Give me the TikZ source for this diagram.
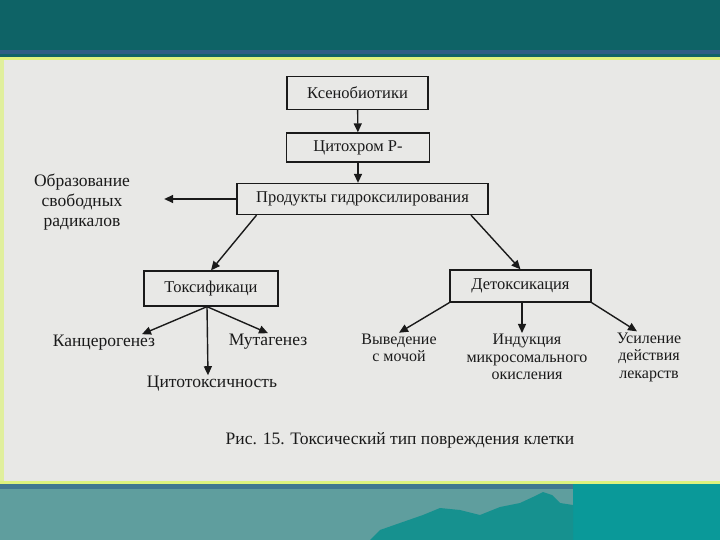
\documentclass[tikz,border=0pt]{standalone}
\usepackage{fontspec}
\setmainfont{Liberation Serif}
\usepackage{xcolor}
\usepackage{tikz}
\usetikzlibrary{calc,positioning,arrows.meta}

\definecolor{headteal}{HTML}{0E6366}
\definecolor{stripeblue}{HTML}{2C5E86}
\definecolor{stripeyellow}{HTML}{DDF27E}
\definecolor{pagegrey}{HTML}{E8E8E6}
\definecolor{footgrey}{HTML}{5F9E9E}
\definecolor{footteal}{HTML}{0A9999}
\definecolor{hillteal}{HTML}{16918F}
\definecolor{inkgrey}{HTML}{1A1A1A}

\tikzset{
  stage/.style={draw=inkgrey, line width=1.3pt, inner sep=0pt,
    font=\fontsize{16.5}{19}\selectfont, text=inkgrey},
  outcome/.style={align=center, inner sep=1pt,
    font=\fontsize{16}{17.5}\selectfont, text=inkgrey},
  bigout/.style={outcome, font=\fontsize{17.5}{20}\selectfont},
  flow/.style={draw=inkgrey, line width=1.4pt,
    -{Triangle[length=9pt,width=8pt]}}
}

\begin{document}
\begin{tikzpicture}[x=1pt,y=-1pt]
		% slide background
		\useasboundingbox (0,0) rectangle (720,540);
		\fill[pagegrey] (0,0) rectangle (720,540);
		\fill[headteal] (0,0) rectangle (720,58);
		\fill[stripeblue] (0,50) rectangle (720,54);
		\fill[stripeyellow] (0,57) rectangle (720,60);
		\fill[stripeyellow!70!pagegrey] (0,60) rectangle (4,482);
		\fill[stripeyellow] (0,481) rectangle (720,484);
		\fill[footgrey] (0,484) rectangle (720,540);
		\fill[stripeblue!60!footgrey] (0,484) rectangle (720,489);
		\fill[footteal] (573,484) rectangle (720,540);
		\fill[hillteal] (370,540) -- (380,530) -- (400,523) -- (423,515)
		  -- (440,508) -- (460,510) -- (480,515) -- (500,507) -- (520,503)
		  -- (533,497) -- (543,492) -- (552,495) -- (560,503) -- (573,505)
		  -- (573,540) -- cycle;

		% boxes
		\node[stage, minimum width=141pt, minimum height=33pt] (ksen) at (357.5,93) {Ксенобиотики};
		\node[stage, minimum width=143pt, minimum height=29pt] (cyto) at (358,147.5) {Цитохром Р-};
		\node[stage, minimum width=251pt, minimum height=31pt] (prod) at (362.5,199) {Продукты гидроксилирования};
		\node[stage, minimum width=134pt, minimum height=35pt] (toks) at (211,288.5) {Токсификаци};
		\node[stage, minimum width=141pt, minimum height=32pt] (detox) at (520.5,286) {Детоксикация};

		% outcomes
		\node[bigout] (rad) at (82,202) {Образование\\свободных\\радикалов};
		\node[bigout] (kanc) at (104,343) {Канцерогенез};
		\node[bigout] (mut) at (268,342) {Мутагенез};
		\node[bigout] (cito) at (212,384) {Цитотоксичность};
		\node[outcome] (vyv) at (399,348) {Выведение\\с мочой};
		\node[outcome] (ind) at (527,357) {Индукция\\микросомального\\окисления};
		\node[outcome] (usil) at (649,357) {Усиление\\действия\\лекарств};

		\node[font=\fontsize{17.5}{21}\selectfont, text=inkgrey] (caption) at (400,440)
		  {Рис. 15. Токсический тип повреждения клетки};

		% arrows
		\draw[flow] (ksen) -- (cyto);
		\draw[flow] (cyto.south) -- (cyto.south |- prod.north);
		\draw[flow, shorten >=33pt] (prod.west) -- (rad.east |- prod.west);
		\draw[flow] ($(prod.south west)!0.08!(prod.south east)$) -- (toks.north);
		\draw[flow] ($(prod.south west)!0.93!(prod.south east)$) -- (detox.north);

		\draw[flow] ([xshift=-4pt]toks.south) -- ([xshift=38pt]kanc.north);
		\draw[flow] ([xshift=-4pt]toks.south) -- (mut.north);
		\draw[flow] ([xshift=-4pt]toks.south) -- ([xshift=-4pt]cito.north);

		\draw[flow] (detox.south west) -- (vyv.north);
		\draw[flow] ([xshift=1.5pt]detox.south) -- ([xshift=1.5pt]detox.south |- ind.north);
		\draw[flow] (detox.south east) -- ([xshift=-12pt]usil.north);
	\end{tikzpicture}
\end{document}
